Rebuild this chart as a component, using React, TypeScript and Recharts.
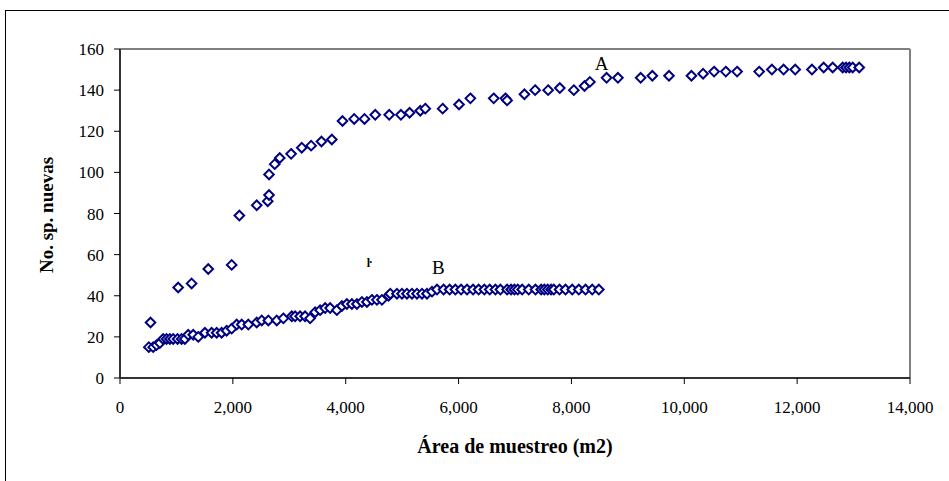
import { ScatterChart, Scatter, XAxis, YAxis, ReferenceLine, ReferenceDot } from 'recharts';

// Serie A (parcela A)
const A_X = [541, 1031, 1269, 1564, 1979, 2115, 2423, 2618, 2641, 2641, 2742, 2831, 3032, 3221, 3387, 3570, 3754, 3943, 4150, 4333, 4523, 4771, 4978, 5132, 5321, 5410, 5718, 6008, 6209, 6623, 6830, 6860, 7167, 7357, 7587, 7794, 8042, 8232, 8327, 8623, 8824, 9227, 9434, 9729, 10127, 10333, 10528, 10736, 10936, 11327, 11552, 11760, 11966, 12262, 12470, 12630, 12807, 12866, 12925, 12984, 13100];
const A_Y = [27, 44, 46, 53, 55, 79, 84, 86, 89, 99, 104, 107, 109, 112, 113, 115, 116, 125, 126, 126, 128, 128, 128, 129, 130, 131, 131, 133, 136, 136, 136, 135, 138, 140, 140, 141, 140, 142, 144, 146, 146, 146, 147, 147, 147, 148, 149, 149, 149, 149, 150, 150, 150, 150, 151, 151, 151, 151, 151, 151, 151];

// Serie B (parcela B)
const B_X = [511, 588, 648, 706, 765, 825, 884, 943, 1020, 1092, 1150, 1209, 1298, 1387, 1505, 1624, 1713, 1801, 1890, 1979, 2068, 2157, 2274, 2423, 2512, 2629, 2778, 2895, 3044, 3103, 3192, 3280, 3369, 3458, 3547, 3636, 3724, 3843, 3932, 4020, 4109, 4198, 4287, 4376, 4464, 4553, 4642, 4760, 4790, 4908, 4997, 5085, 5174, 5263, 5352, 5440, 5529, 5618, 5735, 5842, 5943, 6044, 6150, 6257, 6356, 6457, 6552, 6653, 6741, 6860, 6931, 6990, 7049, 7127, 7244, 7363, 7464, 7520, 7580, 7640, 7688, 7789, 7895, 8014, 8131, 8250, 8369, 8486];
const B_Y = [15, 15, 16, 17, 19, 19, 19, 19, 19, 19, 19, 21, 21, 20, 22, 22, 22, 22, 23, 24, 26, 26, 26, 27, 28, 28, 28, 29, 30, 30, 30, 30, 29, 32, 33, 34, 34, 33, 35, 36, 36, 36, 37, 37, 38, 38, 38, 40, 41, 41, 41, 41, 41, 41, 41, 41, 42, 43, 43, 43, 43, 43, 43, 43, 43, 43, 43, 43, 43, 43, 43, 43, 43, 43, 43, 43, 43, 43, 43, 43, 43, 43, 43, 43, 43, 43, 43, 43];

const X_TICKS = [0, 2000, 4000, 6000, 8000, 10000, 12000, 14000];
const Y_TICKS = [0, 20, 40, 60, 80, 100, 120, 140, 160];

const serieA = A_X.map((x, i) => ({ x, y: A_Y[i] }));
const serieB = B_X.map((x, i) => ({ x, y: B_Y[i] }));

const FONT = "'Liberation Serif', 'Times New Roman', serif";
const NAVY = '#000080';

function Diamond(props: any) {
  const { cx, cy } = props;
  const r = 4.8;
  return (
    <path
      d={`M${cx},${cy - r}L${cx + r},${cy}L${cx},${cy + r}L${cx - r},${cy}Z`}
      fill="#fff"
      stroke={NAVY}
      strokeWidth={2}
    />
  );
}

const fmt = (v: number) => v.toLocaleString('en-US');

export default function App() {
  return (
    <div style={{ position: 'absolute', left: 0, top: 0, width: 949, height: 481, overflow: 'hidden', background: '#fff', fontFamily: FONT }}>
      <div style={{ position: 'absolute', left: 5, top: 10, width: 1000, height: 600, border: '1px solid #000' }} />
      <ScatterChart width={949} height={481} margin={{ top: 49, right: 39, bottom: 72, left: 60 }} style={{ position: 'absolute', left: 0, top: 0 }}>
        <XAxis
          type="number"
          dataKey="x"
          domain={[0, 14000]}
          ticks={X_TICKS}
          tickFormatter={fmt}
          height={31}
          tickSize={6}
          tickMargin={17}
          axisLine={{ stroke: '#333', strokeWidth: 2 }}
          tickLine={{ stroke: '#000' }}
          tick={{ fontSize: 17, fill: '#000', fontFamily: FONT }}
        />
        <YAxis
          type="number"
          dataKey="y"
          domain={[0, 160]}
          ticks={Y_TICKS}
          width={60}
          tickSize={6}
          tickMargin={10}
          axisLine={{ stroke: '#333', strokeWidth: 2 }}
          tickLine={{ stroke: '#000' }}
          tick={{ fontSize: 17, fill: '#000', fontFamily: FONT }}
        />
        <ReferenceLine y={160} stroke="#808080" strokeWidth={2} />
        <ReferenceLine x={14000} stroke="#808080" strokeWidth={2} />
        <Scatter data={serieB} shape={Diamond} isAnimationActive={false} />
        <Scatter data={serieA} shape={Diamond} isAnimationActive={false} />
        <ReferenceDot x={8534} y={153} r={1} fill="none" stroke="none" label={{ value: 'A', position: 'center', fontSize: 19, fill: '#000', fontFamily: FONT }} />
        <ReferenceDot x={5641} y={54} r={1} fill="none" stroke="none" label={{ value: 'B', position: 'center', fontSize: 19, fill: '#000', fontFamily: FONT }} />
        <ReferenceDot x={4416} y={56} r={1} fill="none" stroke="none" label={{ value: 'ŀ', position: 'center', fontSize: 12, fontWeight: 'bold', fill: '#000', fontFamily: FONT }} />
      </ScatterChart>
      <div style={{ position: 'absolute', left: 515, top: 446, transform: 'translate(-50%, -50%)', fontWeight: 'bold', fontSize: 20, whiteSpace: 'nowrap' }}>
        Área de muestreo (m2)
      </div>
      <div style={{ position: 'absolute', left: 47, top: 215, transform: 'translate(-50%, -50%) rotate(-90deg)', fontWeight: 'bold', fontSize: 19, whiteSpace: 'nowrap' }}>
        No. sp. nuevas
      </div>
    </div>
  );
}
